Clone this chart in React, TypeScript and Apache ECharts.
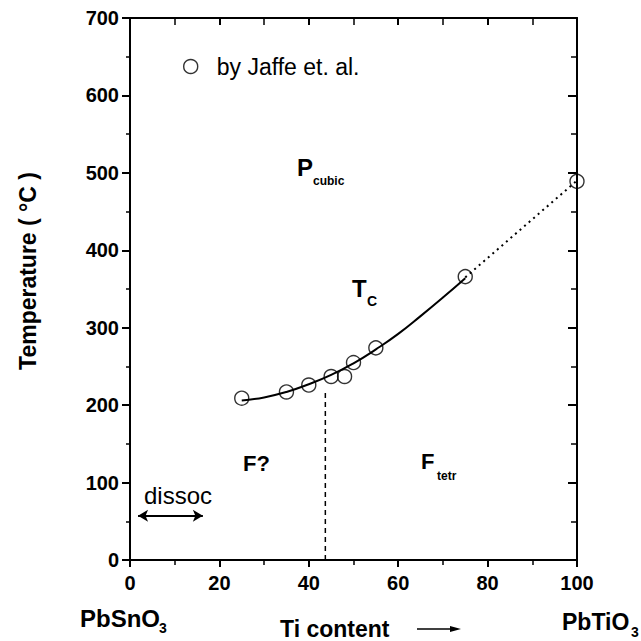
import { useEffect, useRef } from "react";
import * as echarts from "echarts";

// Measured Curie temperatures (Jaffe et al.)
const tiContent = [25, 35, 40, 45, 48, 50, 55, 75, 100];
const tcJaffe = [209, 217, 226, 237, 237, 255, 274, 366, 489];
// Smooth Tc curve drawn through the data
const fitX = [25, 30, 35, 40, 45, 50, 55, 60, 65, 70, 75];
const fitT = [206, 210, 217, 227, 239, 254, 272, 292, 315, 339, 364];
// Dotted extrapolation to PbTiO3
const extrapX = [75, 100];
const extrapT = [365, 490];
// Dashed phase boundary (F? / Ftetr)
const boundaryX = [43.7, 43.7];
const boundaryT = [0, 220];
// "dissoc" double arrow
const dissocX = [1.8, 16.3];
const dissocT = 57;

const xMin = 0, xMax = 100, xStep = 20;
const yMin = 0, yMax = 700, yStep = 100;

const FONT = "'Liberation Sans', Arial, Helvetica, sans-serif";
const BLACK = "#000";

export default function App() {
  const ref = useRef<HTMLDivElement>(null);
  useEffect(() => {
    if (!ref.current) return;
    const chart = echarts.init(ref.current, undefined, { renderer: "svg" });
    const axisLine = { show: true, onZero: false, lineStyle: { color: BLACK, width: 2 } };
    const tickLine = { color: BLACK, width: 2 };
    const minorLine = { color: BLACK, width: 1.5 };
    const label = { color: BLACK, fontFamily: FONT, fontWeight: "bold" as const, fontSize: 20 };
    const txt = (x: number, y: number, text: string, size: number, bold = true, extra: any = {}) => ({
      type: "text",
      x,
      y,
      silent: true,
      style: {
        text,
        fill: BLACK,
        fontFamily: FONT,
        fontSize: size,
        fontWeight: bold ? "bold" : "normal",
        align: "left",
        verticalAlign: "middle",
      },
      ...extra,
    });
    chart.setOption({
      animation: false,
      backgroundColor: "#fff",
      grid: { left: 130, top: 18, right: 64, bottom: 81, containLabel: false },
      legend: {
        data: ["by Jaffe et. al."],
        left: 178,
        top: 50,
        itemWidth: 14,
        itemHeight: 14,
        icon: "circle",
        itemStyle: { color: "transparent", borderColor: BLACK, borderWidth: 1.4 },
        textStyle: { color: BLACK, fontFamily: FONT, fontSize: 23, padding: [0, 0, 0, 14] },
        selectedMode: false,
      },
      xAxis: [
        {
          type: "value",
          min: xMin,
          max: xMax,
          interval: xStep,
          position: "bottom",
          axisLine,
          axisTick: { show: true, inside: false, length: 7, lineStyle: tickLine },
          minorTick: { show: true, splitNumber: 2, length: 5, lineStyle: minorLine },
          splitLine: { show: false },
          axisLabel: { ...label, margin: 13 },
        },
        {
          type: "value",
          min: xMin,
          max: xMax,
          interval: xStep,
          position: "top",
          axisLine,
          axisTick: { show: true, inside: true, length: 7, lineStyle: tickLine },
          minorTick: { show: true, splitNumber: 2, length: 7, lineStyle: minorLine },
          splitLine: { show: false },
          axisLabel: { show: false },
        },
      ],
      yAxis: [
        {
          type: "value",
          min: yMin,
          max: yMax,
          interval: yStep,
          position: "left",
          axisLine,
          axisTick: { show: true, inside: false, length: 8, lineStyle: tickLine },
          minorTick: { show: true, splitNumber: 2, length: 4, lineStyle: minorLine },
          splitLine: { show: false },
          axisLabel: { ...label, margin: 11 },
        },
        {
          type: "value",
          min: yMin,
          max: yMax,
          interval: yStep,
          position: "right",
          axisLine,
          axisTick: { show: true, inside: true, length: 9, lineStyle: tickLine },
          minorTick: { show: true, splitNumber: 2, length: 6, lineStyle: minorLine },
          splitLine: { show: false },
          axisLabel: { show: false },
        },
      ],
      series: [
        {
          name: "fit",
          type: "line",
          smooth: true,
          showSymbol: false,
          silent: true,
          data: fitX.map((x, i) => [x, fitT[i]]),
          lineStyle: { color: BLACK, width: 2 },
          z: 2,
        },
        {
          name: "extrapolation",
          type: "line",
          showSymbol: false,
          silent: true,
          data: extrapX.map((x, i) => [x, extrapT[i]]),
          lineStyle: { color: BLACK, width: 2, type: [2, 4] },
          z: 2,
        },
        {
          name: "boundary",
          type: "line",
          showSymbol: false,
          silent: true,
          data: boundaryX.map((x, i) => [x, boundaryT[i]]),
          lineStyle: { color: BLACK, width: 1.5, type: [5, 4] },
          z: 2,
        },
        {
          name: "by Jaffe et. al.",
          type: "scatter",
          symbol: "circle",
          symbolSize: 14,
          data: tiContent.map((x, i) => [x, tcJaffe[i]]),
          itemStyle: { color: "transparent", borderColor: BLACK, borderWidth: 1.4 },
          z: 3,
        },
        {
          name: "dissoc",
          type: "line",
          data: [],
          silent: true,
          markLine: {
            silent: true,
            symbol: ["arrow", "arrow"],
            symbolSize: [9, 10],
            label: { show: false },
            lineStyle: { color: BLACK, width: 2, type: "solid" },
            data: [[{ coord: [dissocX[0], dissocT] }, { coord: [dissocX[1], dissocT] }]],
          },
        },
      ],
      graphic: [
        txt(28, 271, "Temperature ( °C )", 23, true, { rotation: Math.PI / 2, style: { text: "Temperature ( °C )", fill: BLACK, fontFamily: FONT, fontSize: 23, fontWeight: "bold", align: "center", verticalAlign: "middle" } }),
        txt(297, 167, "P", 24),
        txt(313, 181, "cubic", 12),
        txt(352, 288, "T", 24),
        txt(367, 301, "C", 14),
        txt(243, 463, "F?", 22),
        txt(421, 461, "F", 22),
        txt(437, 476, "tetr", 12),
        txt(144, 495, "dissoc", 24, false),
        txt(80, 618, "PbSnO", 24),
        txt(159, 628, "3", 14),
        txt(280, 629, "Ti content", 23),
        txt(562, 622, "PbTiO", 23),
        txt(631, 632, "3", 14),
        {
          type: "line",
          silent: true,
          shape: { x1: 417, y1: 629, x2: 452, y2: 629 },
          style: { stroke: BLACK, lineWidth: 1.5 },
        },
        {
          type: "polygon",
          silent: true,
          shape: { points: [[450, 626], [461, 629], [450, 632]] },
          style: { fill: BLACK },
        },
      ],
    });
    return () => chart.dispose();
  }, []);
  return (
    <div
      ref={ref}
      style={{ position: "fixed", left: 0, top: 0, width: 641, height: 641, background: "#fff" }}
    />
  );
}
